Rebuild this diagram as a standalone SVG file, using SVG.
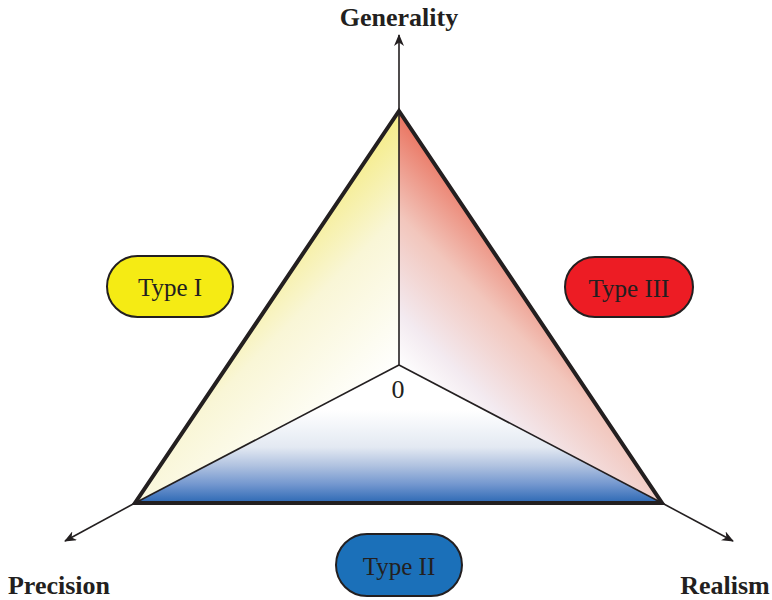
<svg xmlns="http://www.w3.org/2000/svg" width="772" height="600" viewBox="0 0 772 600">
<defs>
<style>
.axis{stroke:#231f20;stroke-width:1.6;fill:none}
.edge{stroke:#231f20;stroke-width:4;fill:none;stroke-linejoin:miter}
.inner{stroke:#231f20;stroke-width:1.6;fill:none}
.pill{stroke:#231f20;stroke-width:2}
.lbl{font-family:"Liberation Serif","Times New Roman",serif;font-weight:bold;font-size:26px;fill:#231f20;text-anchor:middle}
.pt{font-family:"Liberation Serif","Times New Roman",serif;font-size:25px;text-anchor:middle;fill:#231f20}
</style>
<marker id="ah" viewBox="0 0 12 10" refX="11" refY="5" markerWidth="12" markerHeight="10" markerUnits="userSpaceOnUse" orient="auto">
<path d="M0,0 L12,5 L0,10 L3.5,5 z" fill="#231f20"/>
</marker>
<linearGradient id="gy" gradientUnits="userSpaceOnUse" x1="258" y1="230" x2="398" y2="370">
<stop offset="0" stop-color="#f4ea78"/>
<stop offset="0.45" stop-color="#f9f6d6"/>
<stop offset="1" stop-color="#ffffff"/>
</linearGradient>
<linearGradient id="gr" gradientUnits="userSpaceOnUse" x1="540" y1="230" x2="400" y2="370">
<stop offset="0" stop-color="#e8624c"/>
<stop offset="0.45" stop-color="#f2c6bc"/>
<stop offset="0.8" stop-color="#f3eaf0"/>
<stop offset="1" stop-color="#ffffff"/>
</linearGradient>
<linearGradient id="gb" gradientUnits="userSpaceOnUse" x1="0" y1="410" x2="0" y2="503">
<stop offset="0" stop-color="#ffffff"/>
<stop offset="0.4" stop-color="#e3e9f2"/>
<stop offset="0.6" stop-color="#b0c2e0"/>
<stop offset="0.8" stop-color="#7397cf"/>
<stop offset="1" stop-color="#2c68b4"/>
</linearGradient>
</defs>
<rect width="772" height="600" fill="#ffffff"/>
<g id="regions">
<polygon points="399,111 135,503 399,365" fill="url(#gy)"/>
<polygon points="399,111 662,503 399,365" fill="url(#gr)"/>
<polygon points="135,503 662,503 399,365" fill="url(#gb)"/>
</g>
<g id="connectors">
<line class="axis" x1="399" y1="111" x2="399" y2="35" marker-end="url(#ah)"/>
<line class="axis" x1="135" y1="503" x2="65" y2="541" marker-end="url(#ah)"/>
<line class="axis" x1="662" y1="503" x2="733" y2="541" marker-end="url(#ah)"/>
<line class="inner" x1="399" y1="111" x2="399" y2="365"/>
<line class="inner" x1="135" y1="503" x2="399" y2="365"/>
<line class="inner" x1="662" y1="503" x2="399" y2="365"/>
<polygon class="edge" points="399,111 662,503 135,503"/>
</g>
<g id="axis-labels">
<text class="lbl" x="399" y="26">Generality</text>
<text class="lbl" x="59" y="594">Precision</text>
<text class="lbl" x="725" y="594">Realism</text>
<text x="398" y="398" font-family="Liberation Serif, Times New Roman, serif" font-size="26" text-anchor="middle" fill="#231f20">0</text>
</g>
<g id="type1">
<rect class="pill" x="107" y="256" width="126" height="61" rx="30.5" fill="#f5eb14"/>
<text class="pt" x="170" y="296">Type I</text>
</g>
<g id="type3">
<rect class="pill" x="565" y="257" width="128" height="60" rx="30" fill="#ed1c24"/>
<text class="pt" x="629" y="297">Type III</text>
</g>
<g id="type2">
<rect class="pill" x="336" y="534" width="126" height="62" rx="31" fill="#1b70b9"/>
<text class="pt" x="399" y="575" fill="#ffffff">Type II</text>
</g>
</svg>
